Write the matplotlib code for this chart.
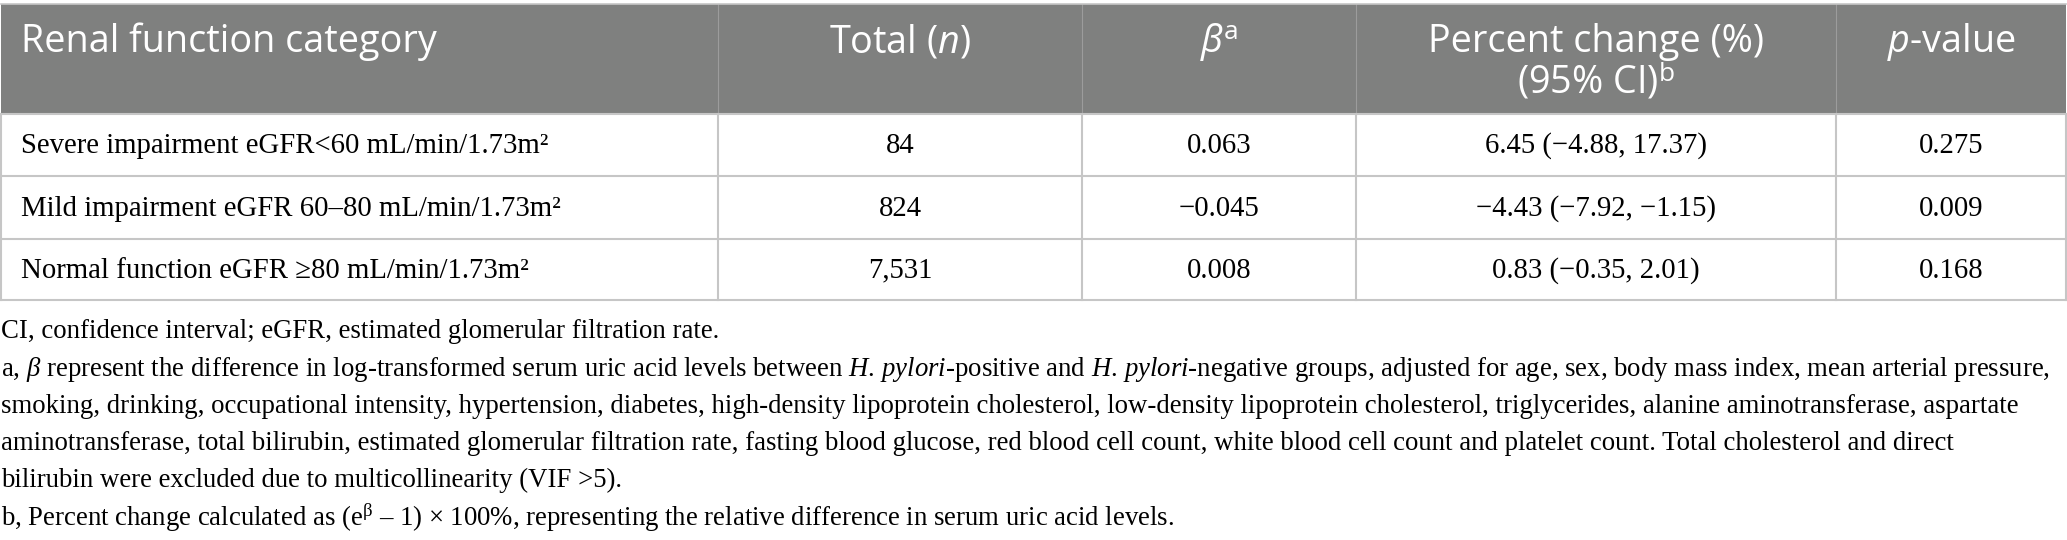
import matplotlib
matplotlib.use("Agg")
import matplotlib.pyplot as plt
from matplotlib.patches import Rectangle

plt.rcParams['font.family'] = ['Liberation Serif', 'DejaVu Serif']
plt.rcParams['mathtext.fontset'] = 'custom'
plt.rcParams['mathtext.rm'] = 'Liberation Serif'
plt.rcParams['mathtext.it'] = 'Liberation Serif:italic'
plt.rcParams['mathtext.sf'] = 'Open Sans'
plt.rcParams['mathtext.cal'] = 'Open Sans:italic'

# table content
headers = ["Renal function category", r"Total ($\mathcal{n}$)", r"$\mathcal{β}^{\mathsf{a}}$",
           "Percent change (%)\n" + r"(95% CI)$^{\mathsf{b}}$", r"$\mathcal{p}$-value"]
categories = ["Severe impairment eGFR<60 mL/min/1.73m²",
              "Mild impairment eGFR 60–80 mL/min/1.73m²",
              "Normal function eGFR ≥80 mL/min/1.73m²"]
totals = ["84", "824", "7,531"]
betas = ["0.063", "−0.045", "0.008"]
pct_change = ["6.45 (−4.88, 17.37)", "−4.43 (−7.92, −1.15)", "0.83 (−0.35, 2.01)"]
p_values = ["0.275", "0.009", "0.168"]

footnotes = [
    "CI, confidence interval; eGFR, estimated glomerular filtration rate.",
    r"a, $\mathit{β}$ represent the difference in log-transformed serum uric acid levels between $\mathit{H.\,pylori}$-positive and $\mathit{H.\,pylori}$-negative groups, adjusted for age, sex, body mass index, mean arterial pressure,",
    "smoking, drinking, occupational intensity, hypertension, diabetes, high-density lipoprotein cholesterol, low-density lipoprotein cholesterol, triglycerides, alanine aminotransferase, aspartate",
    "aminotransferase, total bilirubin, estimated glomerular filtration rate, fasting blood glucose, red blood cell count, white blood cell count and platelet count. Total cholesterol and direct",
    "bilirubin were excluded due to multicollinearity (VIF >5).",
    r"b, Percent change calculated as (e$^{\mathrm{β}}$ – 1) × 100%, representing the relative difference in serum uric acid levels.",
]

W, H = 2067, 540
fig = plt.figure(figsize=(W / 100, H / 100), dpi=100)
ax = fig.add_axes([0, 0, 1, 1])
ax.set_xlim(0, W)
ax.set_ylim(H, 0)
ax.axis('off')
renderer = fig.canvas.get_renderer()


def fit_size(s, target_w, family, base=20.0):
    # font size that makes string s about target_w pixels wide
    t = ax.text(0, 0, s, fontsize=base, family=family)
    w = t.get_window_extent(renderer=renderer).width
    t.remove()
    return base * target_w / w


col_edges = [1, 718, 1082, 1356, 1836, 2066]
row_edges = [4, 114, 176, 239, 300]
header_bg = "#7f807f"
grid = "#c6c6c6"

ax.add_patch(Rectangle((col_edges[0], row_edges[0]), col_edges[-1] - col_edges[0],
                       row_edges[1] - row_edges[0], facecolor=header_bg, edgecolor="none"))
for x in col_edges[1:-1]:
    ax.plot([x, x], [row_edges[0], row_edges[1]], color="#9c9c9c", lw=0.8)
for y in row_edges[1:]:
    ax.plot([col_edges[0], col_edges[-1]], [y, y], color=grid, lw=1.5)
for x in col_edges:
    ax.plot([x, x], [row_edges[1], row_edges[-1]], color=grid, lw=1.5)
ax.plot([col_edges[0], col_edges[-1]], [row_edges[0], row_edges[0]], color=grid, lw=1.2)

hfs = fit_size(headers[0], 414, 'Open Sans')
bfs = fit_size(categories[0], 530, 'Liberation Serif')
ffs = fit_size(footnotes[1], 2045, 'Liberation Serif')

for i, h in enumerate(headers):
    lines = h.split("\n")
    for j, part in enumerate(lines):
        y = 42 + j * 40
        if i == 0:
            ax.text(21, y, part, ha='left', va='center', color='white', fontsize=hfs, family='Open Sans')
        else:
            cx = (col_edges[i] + col_edges[i + 1]) / 2
            ax.text(cx, y, part, ha='center', va='center', color='white', fontsize=hfs, family='Open Sans')

cols = [categories, totals, betas, pct_change, p_values]
for r in range(3):
    cy = (row_edges[r + 1] + row_edges[r + 2]) / 2 + 1
    for c, vals in enumerate(cols):
        if c == 0:
            ax.text(21, cy, vals[r], ha='left', va='center', fontsize=bfs)
        else:
            cx = (col_edges[c] + col_edges[c + 1]) / 2
            ax.text(cx, cy, vals[r], ha='center', va='center', fontsize=bfs)

for k, line in enumerate(footnotes):
    ax.text(1, 332 + k * 37.2, line, ha='left', va='center', fontsize=ffs)

fig.savefig("out.png", dpi=100)
